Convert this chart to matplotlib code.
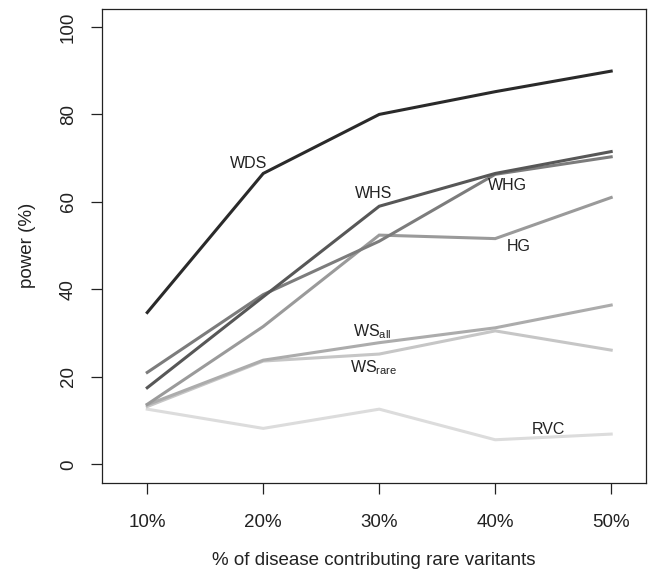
import matplotlib
matplotlib.use("Agg")
import matplotlib.pyplot as plt

plt.rcParams['font.family'] = ['Liberation Sans', 'DejaVu Sans']
plt.rcParams['mathtext.fontset'] = 'custom'
plt.rcParams['mathtext.rm'] = 'Liberation Sans'
plt.rcParams['mathtext.it'] = 'Liberation Sans'

# data
x_labels = ['10%', '20%', '30%', '40%', '50%']
x = [1, 2, 3, 4, 5]
wds = [34.7, 66.5, 80.0, 85.2, 89.9]
whs = [17.5, 38.3, 59.0, 66.5, 71.5]
whg = [21.0, 38.8, 51.0, 66.3, 70.3]
hg = [13.7, 31.5, 52.4, 51.6, 61.0]
ws_all = [13.6, 23.8, 27.8, 31.2, 36.4]
ws_rare = [13.2, 23.6, 25.2, 30.5, 26.1]
rvc = [12.6, 8.2, 12.6, 5.6, 6.9]

series = [rvc, ws_rare, ws_all, hg, whg, whs, wds]
colors = ['#dcdcdc', '#c6c6c6', '#acacac', '#9a9a9a', '#7c7c7c', '#575757', '#2a2a2a']

# label text and where it sits (data coords)
labels = ['RVC', r'WS$_{\mathrm{rare}}$', r'WS$_{\mathrm{all}}$', 'HG', 'WHG', 'WHS', 'WDS']
label_x = [4.46, 2.95, 2.94, 4.20, 4.11, 2.95, 1.87]
label_y = [8.0, 22.2, 30.4, 49.9, 63.7, 61.9, 68.8]

fig = plt.figure(figsize=(6.51, 5.82), dpi=100)
ax = fig.add_axes([0.1567, 0.1700, 0.8356, 0.8145])

for s, c in zip(series, colors):
    ax.plot(x, s, color=c, lw=2.2, solid_joinstyle='miter')

for t, lx, ly in zip(labels, label_x, label_y):
    ax.text(lx, ly, t, ha='center', va='center', fontsize=11.5, color='#222222')

ax.set_xlim(0.61, 5.30)
ax.set_ylim(-4.3, 104.1)
ax.set_xticks(x)
ax.set_xticklabels(x_labels)
ax.set_yticks([0, 20, 40, 60, 80, 100])
ax.set_yticklabels(['0', '20', '40', '60', '80', '100'], rotation=90, va='center')
ax.tick_params(length=8, width=0.9, labelsize=13.5, colors='#222222')
ax.tick_params(axis='x', pad=14.5)
ax.tick_params(axis='y', pad=10)
for sp in ax.spines.values():
    sp.set_linewidth(0.9)
    sp.set_color('#222222')

fig.text(0.5745, 0.037, '% of disease contributing rare varitants', ha='center', va='center',
         fontsize=13.5, color='#222222')
fig.text(0.042, 0.578, 'power (%)', ha='center', va='center', rotation=90,
         fontsize=13.5, color='#222222')

fig.savefig('out.png', dpi=100)
